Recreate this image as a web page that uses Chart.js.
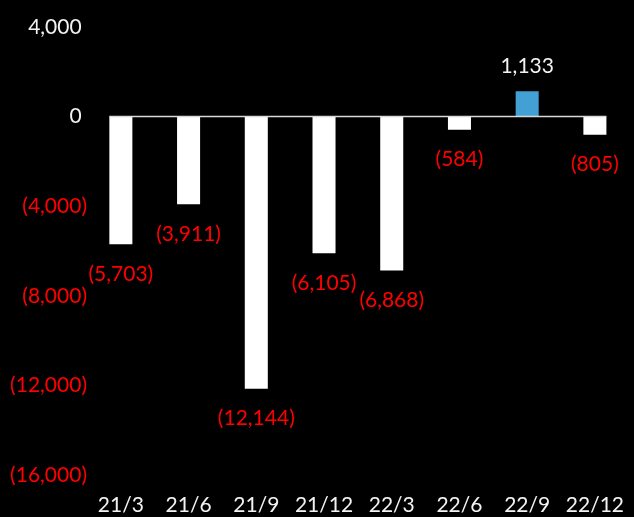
<!DOCTYPE html>
<html>
<head>
<meta charset="utf-8">
<script src="https://cdn.jsdelivr.net/npm/chart.js@4/dist/chart.umd.min.js"></script>
<style>
  html, body { margin: 0; padding: 0; background: #000; }
  #wrap { width: 634px; height: 517px; position: relative; }
</style>
</head>
<body>
<div id="wrap"><canvas id="myChart"></canvas></div>
<script>
const quarters = ["21/3", "21/6", "21/9", "21/12", "22/3", "22/6", "22/9", "22/12"];
const profits = [-5703, -3911, -12144, -6105, -6868, -584, 1133, -805];
const yTicks = [4000, 0, -4000, -8000, -12000, -16000];

const FONT = "Lato";
const WHITE = "#f2f2f2";
const RED = "#ff0000";

function fmt(v) {
  const s = Math.abs(v).toLocaleString("en-US");
  return v < 0 ? "(" + s + ")" : s;
}

// zero line from first bar edge to last bar edge
const zeroLine = {
  id: "zeroLine",
  afterDatasetsDraw(chart) {
    const ctx = chart.ctx;
    const bars = chart.getDatasetMeta(0).data;
    const y = chart.scales.y.getPixelForValue(0);
    const first = bars[0], last = bars[bars.length - 1];
    ctx.save();
    ctx.strokeStyle = "#d9d9d9";
    ctx.lineWidth = 1.5;
    ctx.beginPath();
    ctx.moveTo(first.x - first.width / 2, y);
    ctx.lineTo(last.x + last.width / 2, y);
    ctx.stroke();
    ctx.restore();
  },
};

const valueLabels = {
  id: "valueLabels",
  afterDatasetsDraw(chart) {
    const ctx = chart.ctx;
    const bars = chart.getDatasetMeta(0).data;
    ctx.save();
    ctx.font = "21px " + FONT;
    ctx.textAlign = "center";
    ctx.textBaseline = "middle";
    bars.forEach((bar, i) => {
      const v = profits[i];
      ctx.fillStyle = v < 0 ? RED : WHITE;
      const y = v < 0 ? bar.y + 30 : bar.y - 25;
      ctx.fillText(fmt(v), bar.x, y);
    });
    ctx.restore();
  },
};

var ctx = document.getElementById("myChart").getContext("2d");

var myChart = new Chart(ctx, {
  type: "bar",
  data: {
    labels: quarters,
    datasets: [
      {
        data: profits,
        backgroundColor: profits.map((v) => (v > 0 ? "#43a0d5" : "#ffffff")),
        borderWidth: 0,
        barPercentage: 0.34,
        categoryPercentage: 1,
      },
    ],
  },
  options: {
    responsive: true,
    maintainAspectRatio: false,
    animation: false,
    layout: { padding: { top: 27, right: 0, bottom: 0, left: 0 } },
    plugins: {
      legend: { display: false },
      tooltip: { enabled: false },
    },
    scales: {
      x: {
        grid: { display: false },
        border: { display: false },
        afterFit(scale) {
          scale.height = 42;
        },
        ticks: {
          color: WHITE,
          font: { family: FONT, size: 21 },
          padding: 10,
          maxRotation: 0,
          autoSkip: false,
        },
      },
      y: {
        min: -16000,
        max: 4000,
        grid: { display: false, drawTicks: false },
        border: { display: false },
        afterBuildTicks(scale) {
          scale.ticks = yTicks.map((v) => ({ value: v }));
        },
        afterFit(scale) {
          scale.width = 87;
        },
        ticks: {
          padding: 0,
          font: { family: FONT, size: 21 },
          color: (c) => (c.tick && c.tick.value < 0 ? RED : WHITE),
          callback: (v) => (v < 0 ? fmt(v) : fmt(v) + " "),
        },
      },
    },
  },
  plugins: [zeroLine, valueLabels],
});
</script>
</body>
</html>
